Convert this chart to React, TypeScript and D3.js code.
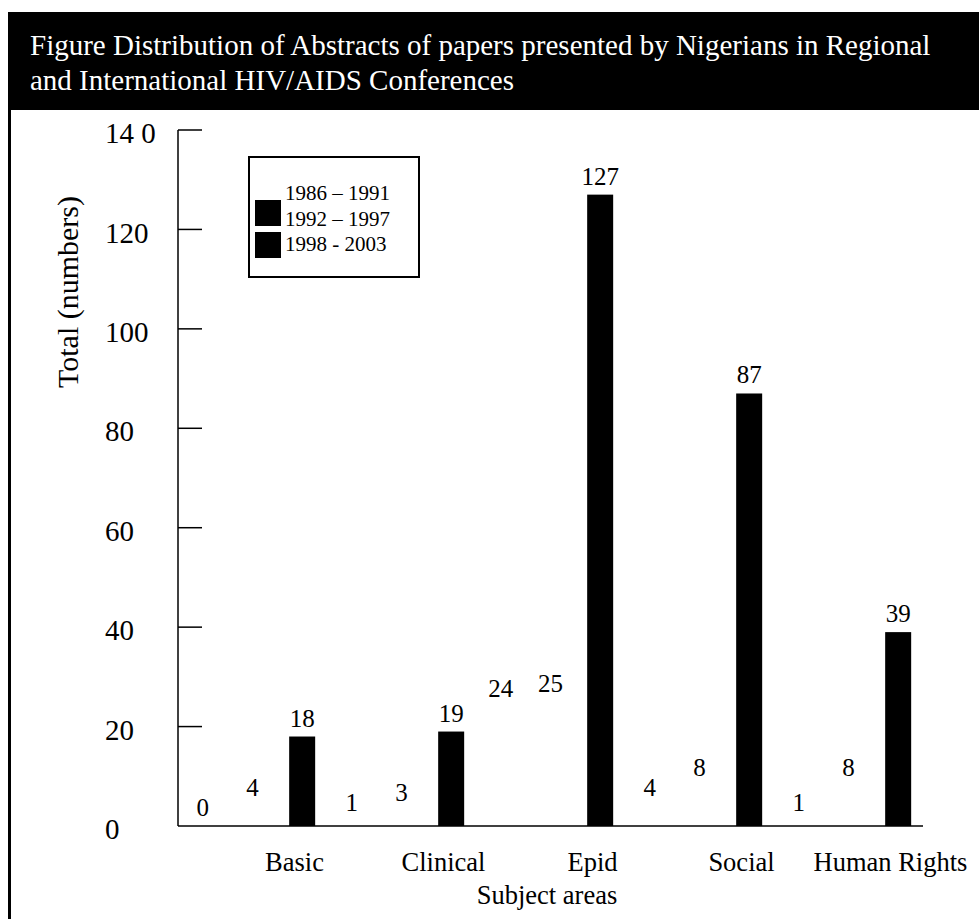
import React, { useEffect, useRef } from "react";
import * as d3 from "d3";

// Subject areas and the three conference periods
const categories = ["Basic", "Clinical", "Epid", "Social", "Human Rights"];
const periods = ["1986 – 1991", "1992 – 1997", "1998 - 2003"];

// Number of abstracts per subject area, one array per period
const period1 = [0, 1, 24, 4, 1];
const period2 = [4, 3, 25, 8, 8];
const period3 = [18, 19, 127, 87, 39];

// Y-axis ticks and their printed labels
const yTicks = [0, 20, 40, 60, 80, 100, 120, 140];
const yTickLabels = ["0", "20", "40", "60", "80", "100", "120", "14 0"];

const title1 = "Figure Distribution of Abstracts of papers presented by Nigerians in Regional";
const title2 = "and International HIV/AIDS Conferences";

const W = 979;
const H = 919;
const FONT = "'Liberation Serif', 'Times New Roman', serif";

export default function App() {
  const ref = useRef<SVGSVGElement | null>(null);

  useEffect(() => {
    const svg = d3.select(ref.current);
    svg.selectAll("*").remove();

    const seriesValues = [period1, period2, period3];
    const barFill = ["#ffffff", "#ffffff", "#000000"];
    const swatchFill = ["#ffffff", "#000000", "#000000"];

    // frame: header band and left edge
    svg.append("rect").attr("x", 0).attr("y", 0).attr("width", W).attr("height", H).attr("fill", "#fff");
    svg.append("rect").attr("x", 9).attr("y", 12).attr("width", W - 9).attr("height", 98).attr("fill", "#000");
    svg.append("line").attr("x1", 9.5).attr("x2", 9.5).attr("y1", 12).attr("y2", H)
      .attr("stroke", "#000").attr("stroke-width", 3);

    const header = svg.append("g").attr("font-family", FONT).attr("font-size", 29).attr("fill", "#fff");
    header.append("text").attr("x", 30).attr("y", 55).text(title1);
    header.append("text").attr("x", 30).attr("y", 90).text(title2);

    const left = 178, right = 923, baseY = 826, topY = 130;

    const x0 = d3.scaleBand<string>().domain(categories).range([left, right]);
    const x1 = d3.scaleBand<string>().domain(periods).range([0, x0.bandwidth()]);
    const y = d3.scaleLinear().domain([0, 140]).range([baseY, topY]);
    const barW = 26;

    const g = svg.append("g");

    // bars and value labels
    seriesValues.forEach((vals, si) => {
      const s = periods[si];
      const cx = (c: string) => (x0(c) as number) + (x1(s) as number) + x1.bandwidth() / 2;
      const data = categories.map((c, i) => ({ c, v: vals[i] }));
      g.selectAll(`rect.s${si}`).data(data).enter().append("rect")
        .attr("class", `s${si}`)
        .attr("x", (d) => cx(d.c) - barW / 2)
        .attr("y", (d) => y(d.v))
        .attr("width", barW)
        .attr("height", (d) => baseY - y(d.v))
        .attr("fill", barFill[si]);
      g.selectAll(`text.v${si}`).data(data).enter().append("text")
        .attr("class", `v${si}`)
        .attr("x", (d) => cx(d.c))
        .attr("y", (d) => y(d.v) - 10)
        .attr("text-anchor", "middle")
        .attr("font-family", FONT).attr("font-size", 25).attr("fill", "#000")
        .text((d) => String(d.v));
    });

    // y axis with inward ticks
    g.append("line").attr("x1", left).attr("x2", left).attr("y1", y(140)).attr("y2", baseY)
      .attr("stroke", "#000").attr("stroke-width", 1.5);
    g.selectAll("line.tick").data(yTicks.filter((t) => t > 0)).enter().append("line")
      .attr("class", "tick")
      .attr("x1", left).attr("x2", left + 24)
      .attr("y1", (d) => y(d)).attr("y2", (d) => y(d))
      .attr("stroke", "#000").attr("stroke-width", 1.5);
    g.selectAll("text.tl").data(yTicks).enter().append("text")
      .attr("class", "tl")
      .attr("x", 105).attr("y", (d) => y(d) + 3).attr("dy", "0.35em")
      .attr("font-family", FONT).attr("font-size", 29).attr("fill", "#000")
      .text((d, i) => yTickLabels[i]);

    // x axis baseline
    g.append("line").attr("x1", left).attr("x2", right).attr("y1", baseY).attr("y2", baseY)
      .attr("stroke", "#000").attr("stroke-width", 1.5);

    // category labels and axis titles
    g.selectAll("text.cat").data(categories).enter().append("text")
      .attr("class", "cat")
      .attr("x", (d) => (x0(d) as number) + x0.bandwidth() / 2 + 42)
      .attr("y", 871)
      .attr("text-anchor", "middle")
      .attr("font-family", FONT).attr("font-size", 26.5).attr("fill", "#000")
      .text((d) => d);
    g.append("text").attr("x", 547).attr("y", 904).attr("text-anchor", "middle")
      .attr("font-family", FONT).attr("font-size", 26.5).text("Subject areas");
    g.append("text")
      .attr("transform", `translate(67, 292) rotate(-90)`)
      .attr("text-anchor", "middle").attr("dy", "0.35em")
      .attr("font-family", FONT).attr("font-size", 30).text("Total (numbers)");

    // legend
    const lg = svg.append("g").attr("transform", "translate(249,157)");
    lg.append("rect").attr("x", 0).attr("y", 0).attr("width", 170).attr("height", 120)
      .attr("fill", "#fff").attr("stroke", "#000").attr("stroke-width", 2);
    periods.forEach((p, i) => {
      lg.append("rect").attr("x", 6).attr("y", 11 + i * 32).attr("width", 26).attr("height", 26)
        .attr("fill", swatchFill[i]);
      lg.append("text").attr("x", 36).attr("y", 43 + i * 25.5)
        .attr("font-family", FONT).attr("font-size", 21).text(p);
    });
  }, []);

  return (
    <svg
      ref={ref}
      width={W}
      height={H}
      style={{ position: "absolute", left: 0, top: 0, display: "block" }}
    />
  );
}
